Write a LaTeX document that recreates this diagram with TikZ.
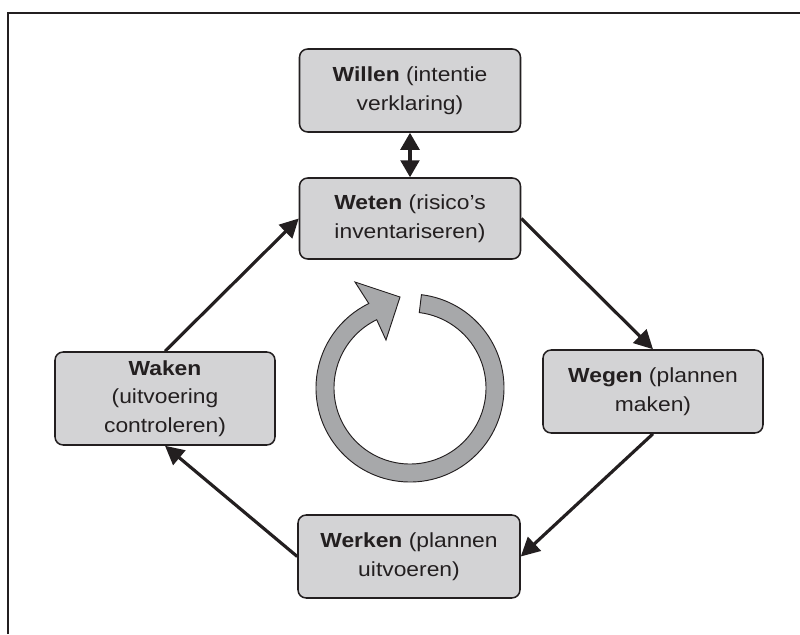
\documentclass[tikz,border=0pt]{standalone}
\usepackage{fontspec}
\setmainfont{Liberation Sans}[FakeStretch=1.12]
\usetikzlibrary{arrows.meta}
\definecolor{ink}{HTML}{231F20}
\definecolor{boxfill}{HTML}{D3D3D5}
\definecolor{ringfill}{HTML}{A7A8AA}
\begin{document}
\begin{tikzpicture}[x=0.03cm,y=-0.03cm,
  stagebox/.style={draw=ink, line width=1.3pt, fill=boxfill, rounded corners=7pt,
    align=center, text=ink, font=\fontsize{17.4}{24.5}\selectfont, inner sep=0pt},
  conn/.style={draw=ink, line width=2.7pt, -{Triangle[length=16pt,width=16pt]}},
  dconn/.style={draw=ink, line width=2.7pt, {Triangle[length=14.5pt,width=16pt]}-{Triangle[length=14.5pt,width=16pt]}}]
\useasboundingbox (0,0) rectangle (800,634);
\draw[ink, line width=1.4pt] (8,634) -- (8,13) -- (800,13);

\node[stagebox, minimum width=6.63cm, minimum height=2.49cm] (willen) at (410,90.5) {\textbf{Willen} (intentie\\verklaring)};
\node[stagebox, minimum width=6.63cm, minimum height=2.43cm] (weten) at (410,218.5) {\textbf{Weten} (risico’s\\inventariseren)};
\node[stagebox, minimum width=6.6cm, minimum height=2.79cm] (waken) at (165,398.5) {\textbf{Waken}\\(uitvoering\\controleren)};
\node[stagebox, minimum width=6.6cm, minimum height=2.49cm] (wegen) at (653,391.5) {\textbf{Wegen} (plannen\\maken)};
\node[stagebox, minimum width=6.66cm, minimum height=2.49cm] (werken) at (409,556.5) {\textbf{Werken} (plannen\\uitvoeren)};

\draw[dconn] (willen.south) -- (weten.north);
\draw[conn] (waken.north) -- (weten.west);
\draw[conn] (weten.east) -- (wegen.north);
\draw[conn] (wegen.south) -- (werken.east);
\draw[conn] (werken.west) -- (waken.south);

\begin{scope}[shift={(410,388)}, y=0.03cm]
\draw[ink, line width=0.8pt, fill=ringfill, line join=miter]
  (83:94) arc[start angle=83, end angle=-244, radius=94]
  -- (-55,106) -- (-10,91) -- (-24,48) -- (116:76)
  arc[start angle=-244, end angle=83, radius=76] -- cycle;
\end{scope}
\end{tikzpicture}
\end{document}
